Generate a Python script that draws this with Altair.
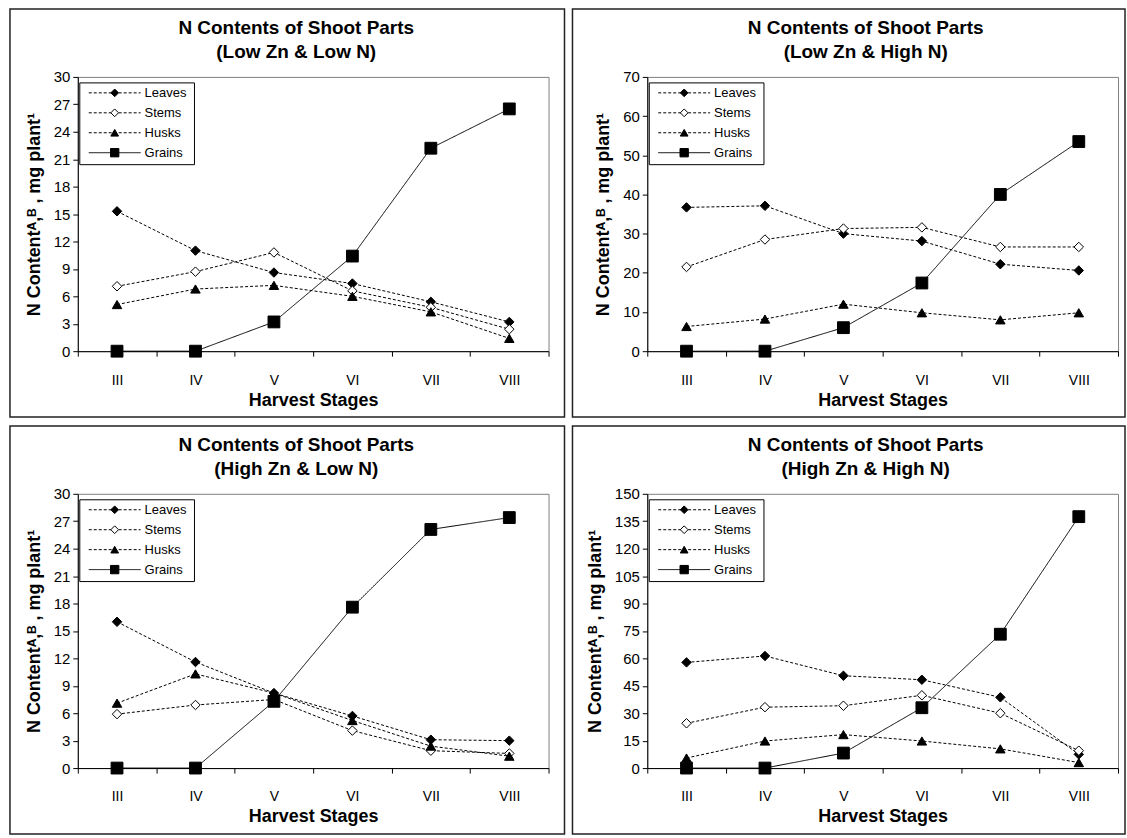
import json
import altair as alt
import pandas as pd

# ---------------- data ----------------
STAGES = ["III", "IV", "V", "VI", "VII", "VIII"]
PARTS = ["Leaves", "Stems", "Husks", "Grains"]
MAIN_TITLE = "N Contents of Shoot Parts"
SUBTITLES = ["(Low Zn & Low N)", "(Low Zn & High N)",
             "(High Zn & Low N)", "(High Zn & High N)"]
Y_TITLE = "N Contentᴬ,ᴮ , mg plant¹"
X_TITLE = "Harvest Stages"

# Low Zn & Low N
LL_LEAVES = [15.3, 11.0, 8.6, 7.4, 5.4, 3.2]
LL_STEMS = [7.1, 8.7, 10.8, 6.6, 4.8, 2.4]
LL_HUSKS = [5.1, 6.8, 7.2, 6.0, 4.3, 1.4]
LL_GRAINS = [0.0, 0.0, 3.2, 10.4, 22.2, 26.5]
# Low Zn & High N
LH_LEAVES = [36.7, 37.1, 30.0, 28.1, 22.2, 20.6]
LH_STEMS = [21.5, 28.5, 31.3, 31.6, 26.6, 26.6]
LH_HUSKS = [6.3, 8.2, 12.0, 9.8, 8.0, 9.8]
LH_GRAINS = [0.0, 0.0, 6.0, 17.4, 40.0, 53.5]
# High Zn & Low N
HL_LEAVES = [16.0, 11.6, 8.2, 5.7, 3.1, 3.0]
HL_STEMS = [5.9, 6.9, 7.5, 4.1, 1.9, 1.6]
HL_HUSKS = [7.1, 10.3, 8.2, 5.2, 2.4, 1.3]
HL_GRAINS = [0.0, 0.0, 7.3, 17.6, 26.1, 27.4]
# High Zn & High N
HH_LEAVES = [57.8, 61.3, 50.5, 48.3, 38.7, 7.5]
HH_STEMS = [24.5, 33.3, 34.1, 39.8, 30.0, 9.5]
HH_HUSKS = [5.5, 14.8, 18.3, 14.8, 10.5, 3.0]
HH_GRAINS = [0.0, 0.0, 8.2, 33.0, 73.2, 137.5]

SERIES = [
    [LL_LEAVES, LL_STEMS, LL_HUSKS, LL_GRAINS],
    [LH_LEAVES, LH_STEMS, LH_HUSKS, LH_GRAINS],
    [HL_LEAVES, HL_STEMS, HL_HUSKS, HL_GRAINS],
    [HH_LEAVES, HH_STEMS, HH_HUSKS, HH_GRAINS],
]
Y_MAX = [30, 70, 30, 150]
Y_STEP = [3, 10, 3, 15]

# ---------------- style ----------------
F = "Liberation Sans"
W, H = 472, 275          # plot area of each panel
TOP, BOTTOM = 68, 66     # panel frame margins around the plot area
MARGINS = [(68, 16), (75, 7), (68, 16), (75, 7)]

MARK_SHAPES = ["diamond", "diamond", "triangle-up", "square"]
MARK_FILLS = ["black", "white", "black", "black"]
MARK_SIZES = [90, 90, 90, 140]
LEG_SIZES = [60, 60, 60, 70]
DASHES = [[3, 2], [3, 2], [3, 2], [1, 0]]

# legend box geometry (pixels inside the plot area)
LEG_BOX = (2, 117, 6, 88)       # x, x2, y, y2
LEG_Y0, LEG_DY = 16, 20         # first entry centre, row step
LEG_LINE = (11, 63)             # sample line start / end
LEG_MARK_X, LEG_TEXT_X = 37, 67

# labels sit at the right-hand tick of each band and are shifted back by half a band
X_LABEL_EXPR = json.dumps([""] + STAGES) + "[datum.value]"

LEGEND_DF = pd.DataFrame({"part": PARTS, "idx": list(range(len(PARTS)))})


def panel(k):
    rows = []
    for part, vals in zip(PARTS, SERIES[k]):
        for i, (st, v) in enumerate(zip(STAGES, vals)):
            rows.append({"stage": st, "pos": i + 0.5, "part": part, "value": v})
    df = pd.DataFrame(rows)
    L, R = MARGINS[k]
    ymax, ystep = Y_MAX[k], Y_STEP[k]

    x = alt.X("pos:Q",
              scale=alt.Scale(domain=[0, len(STAGES)], nice=False, zero=False),
              axis=alt.Axis(values=list(range(len(STAGES) + 1)),
                            labelExpr=X_LABEL_EXPR, labelOffset=-W / 12,
                            labelFlush=False, labelOverlap=False,
                            tickSize=5, labelPadding=17, labelFontSize=14,
                            title=X_TITLE, titleFontSize=18,
                            titleFontWeight="bold", titlePadding=4))
    y = alt.Y("value:Q",
              scale=alt.Scale(domain=[0, ymax], nice=False),
              axis=alt.Axis(values=list(range(0, ymax + 1, ystep)),
                            tickSize=5, labelPadding=3, labelFontSize=15,
                            title=Y_TITLE, titleFontSize=18,
                            titleFontWeight="bold", titlePadding=10))

    base = alt.Chart(df)
    frame = base.transform_filter(
        "datum.pos == 0.5 && datum.part == 'Leaves'").mark_rect(
        filled=False, stroke="#222222", strokeWidth=1.5
    ).encode(x=alt.value(-L), x2=alt.value(W + R),
             y=alt.value(-TOP), y2=alt.value(H + BOTTOM))

    dash = alt.StrokeDash("part:N", scale=alt.Scale(domain=PARTS, range=DASHES),
                          legend=None)
    lines = base.mark_line(color="black", strokeWidth=1).encode(
        x=x, y=y, strokeDash=dash)
    point_layers = []
    for part, shp, fil, sz in zip(PARTS, MARK_SHAPES, MARK_FILLS, MARK_SIZES):
        point_layers.append(
            base.transform_filter(alt.datum.part == part).mark_point(
                shape=shp, filled=True, fill=fil, stroke="black",
                strokeWidth=1, size=sz, opacity=1).encode(x=x, y=y))

    # ---- legend (drawn inside the plot, entries taken from PARTS)
    leg = alt.Chart(LEGEND_DF).transform_calculate(
        ly=f"{LEG_Y0} + datum.idx * {LEG_DY}")
    ly = alt.Y("ly:Q", scale=None, axis=None)
    leg_box = leg.transform_filter("datum.idx == 0").mark_rect(
        fill="white", stroke="black", strokeWidth=1
    ).encode(x=alt.value(LEG_BOX[0]), x2=alt.value(LEG_BOX[1]),
             y=alt.value(LEG_BOX[2]), y2=alt.value(LEG_BOX[3]))
    leg_lines = leg.mark_rule(color="black", strokeWidth=1).encode(
        x=alt.value(LEG_LINE[0]), x2=alt.value(LEG_LINE[1]), y=ly,
        strokeDash=dash)
    leg_marks = []
    for i, (shp, fil, sz) in enumerate(zip(MARK_SHAPES, MARK_FILLS, LEG_SIZES)):
        leg_marks.append(
            leg.transform_filter(f"datum.idx == {i}").mark_point(
                shape=shp, filled=True, fill=fil, stroke="black",
                strokeWidth=1, size=sz, opacity=1
            ).encode(x=alt.value(LEG_MARK_X), y=ly))
    leg_text = leg.mark_text(align="left", baseline="middle", font=F,
                             fontSize=13, color="black").encode(
        x=alt.value(LEG_TEXT_X), y=ly, text="part:N")

    return alt.layer(frame, lines, *point_layers, leg_box, leg_lines,
                     *leg_marks, leg_text).properties(
        width=W, height=H,
        title=alt.TitleParams(text=[MAIN_TITLE, SUBTITLES[k]], font=F,
                              fontSize=19, fontWeight="bold", color="black",
                              lineHeight=24, anchor="middle", offset=-54,
                              dx=-17),
    )


top = alt.hconcat(panel(0), panel(1), spacing=4)
bottom = alt.hconcat(panel(2), panel(3), spacing=4)
chart = alt.vconcat(top, bottom, spacing=5).properties(
    padding={"left": 8, "top": 6, "right": 0, "bottom": 0},
    background="white",
).configure_view(stroke="#808080", strokeWidth=1).configure_axis(
    domainColor="black", tickColor="black", labelColor="black",
    titleColor="black", labelFont=F, titleFont=F, grid=False,
    domainWidth=1, tickWidth=1,
)

chart.save("out.html", embed_options={"renderer": "svg", "actions": False})
